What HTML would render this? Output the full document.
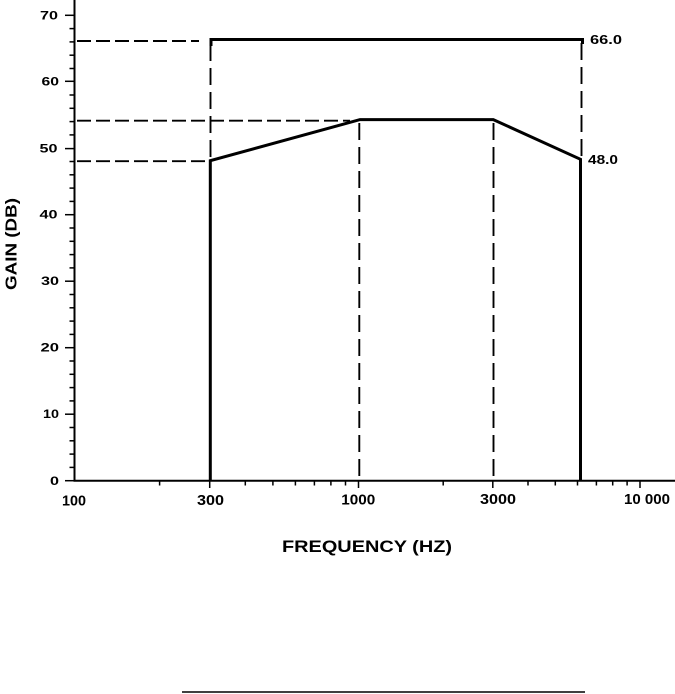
<!DOCTYPE html>
<html>
<head>
<meta charset="utf-8">
<style>
html,body{margin:0;padding:0;background:#fff;}
svg{display:block;}
text{font-family:"Liberation Sans",Arial,sans-serif;fill:#000;}
</style>
</head>
<body>
<svg width="675" height="694" viewBox="0 0 675 694" xmlns="http://www.w3.org/2000/svg">
<rect width="675" height="694" fill="#fff"/>

<!-- axes -->
<line x1="74.5" y1="0" x2="74.5" y2="481.5" stroke="#000" stroke-width="2"/>
<line x1="73.5" y1="480.7" x2="675" y2="480.7" stroke="#000" stroke-width="2"/>

<!-- y ticks -->
<g stroke="#000" stroke-width="1.5">
<line x1="65" y1="480.7" x2="74" y2="480.7"/>
<line x1="69.5" y1="467.4" x2="74" y2="467.4"/>
<line x1="69.5" y1="454.1" x2="74" y2="454.1"/>
<line x1="69.5" y1="440.8" x2="74" y2="440.8"/>
<line x1="69.5" y1="427.5" x2="74" y2="427.5"/>
<line x1="65" y1="414.2" x2="74" y2="414.2"/>
<line x1="69.5" y1="400.9" x2="74" y2="400.9"/>
<line x1="69.5" y1="387.6" x2="74" y2="387.6"/>
<line x1="69.5" y1="374.3" x2="74" y2="374.3"/>
<line x1="69.5" y1="361.0" x2="74" y2="361.0"/>
<line x1="65" y1="347.7" x2="74" y2="347.7"/>
<line x1="69.5" y1="334.4" x2="74" y2="334.4"/>
<line x1="69.5" y1="321.1" x2="74" y2="321.1"/>
<line x1="69.5" y1="307.8" x2="74" y2="307.8"/>
<line x1="69.5" y1="294.5" x2="74" y2="294.5"/>
<line x1="65" y1="281.2" x2="74" y2="281.2"/>
<line x1="69.5" y1="267.9" x2="74" y2="267.9"/>
<line x1="69.5" y1="254.6" x2="74" y2="254.6"/>
<line x1="69.5" y1="241.3" x2="74" y2="241.3"/>
<line x1="69.5" y1="228.0" x2="74" y2="228.0"/>
<line x1="65" y1="214.7" x2="74" y2="214.7"/>
<line x1="69.5" y1="201.4" x2="74" y2="201.4"/>
<line x1="69.5" y1="188.1" x2="74" y2="188.1"/>
<line x1="69.5" y1="174.8" x2="74" y2="174.8"/>
<line x1="69.5" y1="161.5" x2="74" y2="161.5"/>
<line x1="65" y1="148.6" x2="74" y2="148.6"/>
<line x1="69.5" y1="134.9" x2="74" y2="134.9"/>
<line x1="69.5" y1="121.6" x2="74" y2="121.6"/>
<line x1="69.5" y1="108.3" x2="74" y2="108.3"/>
<line x1="69.5" y1="95.0" x2="74" y2="95.0"/>
<line x1="65" y1="81.3" x2="74" y2="81.3"/>
<line x1="69.5" y1="68.5" x2="74" y2="68.5"/>
<line x1="69.5" y1="55.2" x2="74" y2="55.2"/>
<line x1="69.5" y1="41.9" x2="74" y2="41.9"/>
<line x1="69.5" y1="28.6" x2="74" y2="28.6"/>
<line x1="65" y1="15.3" x2="74" y2="15.3"/>
</g>

<!-- x ticks -->
<g stroke="#000" stroke-width="1.5">
<line x1="159.6" y1="481" x2="159.6" y2="485.5"/>
<line x1="209.7" y1="481" x2="209.7" y2="488"/>
<line x1="245.3" y1="481" x2="245.3" y2="485.5"/>
<line x1="272.9" y1="481" x2="272.9" y2="485.5"/>
<line x1="295.4" y1="481" x2="295.4" y2="485.5"/>
<line x1="314.4" y1="481" x2="314.4" y2="485.5"/>
<line x1="330.9" y1="481" x2="330.9" y2="485.5"/>
<line x1="345.5" y1="481" x2="345.5" y2="485.5"/>
<line x1="358.5" y1="481" x2="358.5" y2="488"/>
<line x1="443.2" y1="481" x2="443.2" y2="485.5"/>
<line x1="492.8" y1="481" x2="492.8" y2="488"/>
<line x1="528.0" y1="481" x2="528.0" y2="485.5"/>
<line x1="555.3" y1="481" x2="555.3" y2="485.5"/>
<line x1="577.5" y1="481" x2="577.5" y2="485.5"/>
<line x1="596.4" y1="481" x2="596.4" y2="485.5"/>
<line x1="612.7" y1="481" x2="612.7" y2="485.5"/>
<line x1="627.1" y1="481" x2="627.1" y2="485.5"/>
<line x1="640.0" y1="481" x2="640.0" y2="488"/>
</g>

<!-- y tick labels -->
<g font-size="12" font-weight="bold" text-anchor="end">
<text x="58" y="19.6" textLength="18" lengthAdjust="spacingAndGlyphs">70</text>
<text x="59" y="85.3" textLength="17.5" lengthAdjust="spacingAndGlyphs">60</text>
<text x="57.5" y="152.6" textLength="18" lengthAdjust="spacingAndGlyphs">50</text>
<text x="57.5" y="218.7" textLength="18" lengthAdjust="spacingAndGlyphs">40</text>
<text x="59" y="285.2" textLength="18" lengthAdjust="spacingAndGlyphs">30</text>
<text x="59" y="351.7" textLength="18.5" lengthAdjust="spacingAndGlyphs">20</text>
<text x="59" y="418.2" textLength="16" lengthAdjust="spacingAndGlyphs">10</text>
<text x="59" y="484.9" textLength="9" lengthAdjust="spacingAndGlyphs">0</text>
</g>

<!-- x tick labels -->
<g font-size="14.5" font-weight="bold" text-anchor="middle">
<text x="74" y="505.5" textLength="24" lengthAdjust="spacingAndGlyphs">100</text>
<text x="210.5" y="505" textLength="27" lengthAdjust="spacingAndGlyphs">300</text>
<text x="358.3" y="504.5" textLength="34" lengthAdjust="spacingAndGlyphs">1000</text>
<text x="498" y="504" textLength="36" lengthAdjust="spacingAndGlyphs">3000</text>
<text x="647" y="504" textLength="46" lengthAdjust="spacingAndGlyphs">10 000</text>
</g>

<!-- axis titles -->
<text x="282" y="552" font-size="17" font-weight="bold" textLength="170" lengthAdjust="spacingAndGlyphs">FREQUENCY (HZ)</text>
<text transform="translate(16.5,244) rotate(-90)" font-size="15.5" font-weight="bold" text-anchor="middle" textLength="92" lengthAdjust="spacingAndGlyphs">GAIN (DB)</text>

<!-- dashed reference lines -->
<g stroke="#000" stroke-width="1.9" stroke-dasharray="14 5" fill="none">
<line x1="77" y1="41" x2="199" y2="41"/>
<line x1="77" y1="120.7" x2="350" y2="120.7"/>
<line x1="77" y1="161.2" x2="208" y2="161.2"/>
</g>
<g stroke="#000" stroke-width="1.9" stroke-dasharray="17 7" fill="none">
<line x1="210.5" y1="44" x2="210.5" y2="160"/>
<line x1="359.3" y1="123" x2="359.3" y2="480"/>
<line x1="493.5" y1="123" x2="493.5" y2="480"/>
<line x1="581.5" y1="43" x2="581.5" y2="158"/>
</g>

<!-- solid curves -->
<g stroke="#000" stroke-width="3" fill="none" stroke-linejoin="miter">
<polyline points="211,46 211,39.5 582.5,39.5 582.5,44"/>
<polyline points="210.3,481 210.3,160.7 360,119.6 493.3,119.6 580.5,159.3 580.5,481"/>
</g>

<!-- value labels -->
<g font-size="12.5" font-weight="bold">
<text x="590" y="44" textLength="32" lengthAdjust="spacingAndGlyphs">66.0</text>
<text x="588" y="164" textLength="30" lengthAdjust="spacingAndGlyphs">48.0</text>
</g>

<!-- bottom rule -->
<line x1="182" y1="692" x2="585" y2="692" stroke="#000" stroke-width="1.5"/>
</svg>
</body>
</html>
